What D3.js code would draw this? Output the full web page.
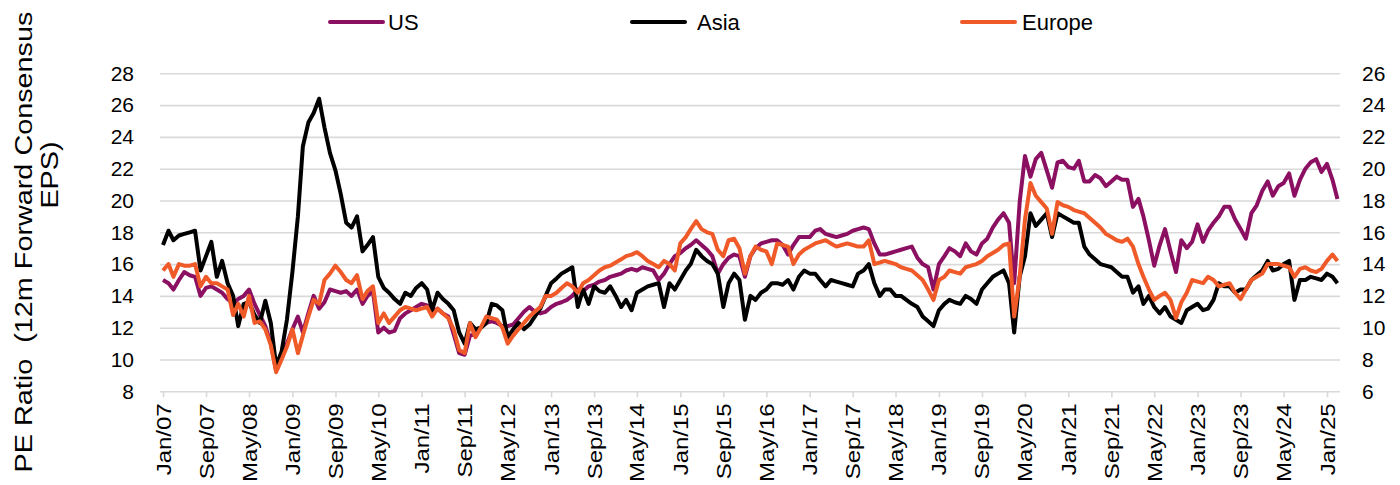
<!DOCTYPE html>
<html>
<head>
<meta charset="utf-8">
<script src="https://cdn.jsdelivr.net/npm/d3@7"></script>
<style>
  html, body { margin: 0; padding: 0; background: #fff; }
  svg { display: block; font-family: "Liberation Sans", Arial, sans-serif; }
</style>
</head>
<body>
<svg id="chart" width="1400" height="485"></svg>
<script>
// Monthly PE ratios (12m forward consensus EPS), Jan 2007 onward
const startMonth = new Date(2007, 0, 1);

const seriesNames = ["US", "Asia", "Europe"];
const seriesColors = ["#8b1062", "#000000", "#f05a28"];

const US = [
  15.0,14.8,14.4,15.0,15.5,15.3,15.2,14.0,14.5,14.6,14.4,14.2,
  13.8,13.5,13.8,14.0,14.4,13.5,12.8,12.1,11.0,9.3,10.2,11.0,
  11.9,12.7,11.7,12.9,14.0,13.2,13.6,14.4,14.3,14.2,14.3,14.0,
  14.4,13.5,14.0,14.3,11.7,12.0,11.7,11.8,12.6,12.9,13.1,13.3,
  13.5,13.4,13.0,13.2,12.9,12.7,11.6,10.4,10.3,11.5,11.6,12.0,
  12.3,12.4,12.3,12.1,12.1,12.2,12.6,13.0,13.3,13.0,12.9,13.0,
  13.3,13.5,13.6,13.75,14.0,14.4,14.3,14.6,14.7,14.9,15.0,15.2,
  15.3,15.4,15.6,15.7,15.6,15.8,15.7,15.6,15.0,15.4,16.0,16.5,
  16.7,17.0,17.2,17.5,17.2,16.9,16.5,15.4,16.0,16.4,16.6,16.5,
  15.2,16.5,17.0,17.3,17.4,17.5,17.5,17.2,16.6,17.2,17.7,17.7,
  17.7,18.1,18.2,17.9,17.8,17.7,17.8,17.9,18.1,18.2,18.3,18.2,
  17.3,16.6,16.6,16.7,16.8,16.9,17.0,17.1,16.4,16.0,15.8,14.4,
  16.0,16.5,17.0,16.8,16.5,17.3,16.8,16.6,17.3,17.6,18.3,18.8,
  19.2,18.6,14.8,19.9,22.8,21.5,22.6,23.0,21.9,20.8,22.4,22.5,
  22.1,22.0,22.5,21.2,21.2,21.6,21.4,20.9,21.2,21.5,21.3,21.3,
  19.6,20.1,19.0,17.5,15.9,17.2,18.2,16.8,15.5,17.5,17.0,17.4,
  18.5,17.4,18.1,18.6,19.0,19.6,19.6,18.8,18.2,17.6,19.2,19.7,
  20.6,21.2,20.3,20.9,21.1,21.7,20.3,21.3,22.0,22.4,22.6,21.8,
  22.3,21.3,20.1
];

const Asia = [
  17.2,18.1,17.5,17.8,17.9,18.0,18.1,15.6,16.5,17.4,15.2,16.2,
  14.8,14.0,12.1,13.5,13.6,12.8,12.3,13.7,12.3,9.6,10.5,12.5,
  15.5,19.0,23.4,24.9,25.5,26.4,24.6,23.0,21.9,20.4,18.6,18.3,
  19.0,16.8,17.2,17.7,15.2,14.5,14.2,13.8,13.5,14.2,14.0,14.5,
  14.8,14.4,13.1,14.2,13.8,13.5,13.1,11.7,11.0,12.3,11.9,12.0,
  12.3,13.5,13.4,13.1,11.4,11.9,12.3,11.9,12.2,12.7,13.2,14.0,
  14.8,15.1,15.4,15.6,15.8,13.3,14.4,13.5,14.6,14.3,14.2,14.6,
  14.0,13.3,13.75,13.1,14.2,14.4,14.6,14.7,14.8,13.3,14.8,14.4,
  15.0,15.6,16.0,16.9,16.5,16.2,16.0,15.4,13.3,14.8,15.4,15.0,
  12.5,14.0,13.75,14.2,14.4,14.8,14.8,14.7,15.0,14.4,15.2,15.6,
  15.4,15.4,15.0,14.6,15.0,14.9,14.8,14.7,14.6,15.4,15.6,16.0,
  14.8,14.0,14.4,14.4,14.0,14.0,13.75,13.5,13.3,12.7,12.4,12.1,
  13.1,13.5,13.75,13.6,13.5,14.0,13.8,13.5,14.4,14.8,15.2,15.4,
  15.6,14.8,11.7,15.2,16.5,19.2,18.4,18.8,19.2,17.7,19.2,19.0,
  18.8,18.6,18.6,17.1,16.6,16.3,16.0,15.9,15.8,15.5,15.2,15.2,
  14.2,14.6,13.5,14.0,13.3,12.9,13.3,12.7,12.5,12.3,13.1,13.3,
  13.5,13.1,13.2,13.75,14.8,14.6,14.6,14.2,14.4,14.4,15.0,15.3,
  15.6,16.2,15.6,15.7,16.0,16.2,13.75,15.0,15.0,15.2,15.1,15.0,
  15.4,15.2,14.8
];

const Europe = [
  15.6,16.0,15.2,16.0,15.9,15.9,16.0,14.6,15.2,14.8,14.8,14.6,
  14.4,12.8,13.5,12.7,14.0,12.3,12.4,11.9,10.9,9.2,10.0,10.8,
  11.9,10.4,11.5,12.7,13.75,13.5,15.0,15.4,15.9,15.5,15.0,14.8,
  15.3,13.8,14.3,14.6,12.3,12.9,12.3,12.7,13.1,13.3,13.2,13.1,
  13.2,13.3,12.7,13.2,12.9,12.6,11.9,10.6,10.4,12.3,11.4,12.0,
  12.7,12.6,12.5,12.0,11.0,11.5,11.9,12.3,12.7,13.0,13.3,14.0,
  14.0,14.2,14.5,14.8,14.6,14.2,14.8,15.0,15.3,15.6,15.8,15.9,
  16.1,16.3,16.5,16.6,16.75,16.5,16.2,16.0,15.8,16.2,16.0,15.6,
  17.3,17.7,18.2,18.7,18.2,18.0,17.9,16.9,16.5,17.5,17.6,17.0,
  15.4,16.5,17.1,16.9,16.8,16.0,17.3,17.2,17.1,16.0,16.6,16.9,
  17.1,17.3,17.4,17.5,17.3,17.1,17.2,17.3,17.2,17.1,17.1,17.5,
  16.0,16.1,16.2,16.1,16.0,15.8,15.7,15.6,15.3,15.0,14.4,13.75,
  15.0,15.2,15.6,15.5,15.4,15.8,15.9,16.0,16.2,16.5,16.7,16.9,
  17.2,17.3,12.7,15.2,18.8,21.1,20.3,19.9,19.5,17.9,19.9,19.7,
  19.6,19.4,19.3,19.2,18.9,18.6,18.3,17.9,17.7,17.5,17.4,17.6,
  17.1,16.0,15.2,14.4,13.75,14.0,14.2,13.75,12.6,13.6,14.2,15.0,
  14.9,14.8,15.2,15.0,14.6,14.7,14.8,14.2,13.8,14.4,15.0,15.2,
  15.4,16.0,16.0,16.0,15.9,15.8,15.2,15.7,15.8,15.6,15.5,15.7,
  16.2,16.6,16.2
];

const leftTicks = [8, 10, 12, 14, 16, 18, 20, 22, 24, 26, 28];
const rightTicks = [6, 8, 10, 12, 14, 16, 18, 20, 22, 24, 26];
const xTickLabels = [
  "Jan/07","Sep/07","May/08","Jan/09","Sep/09","May/10","Jan/11","Sep/11",
  "May/12","Jan/13","Sep/13","May/14","Jan/15","Sep/15","May/16","Jan/17",
  "Sep/17","May/18","Jan/19","Sep/19","May/20","Jan/21","Sep/21","May/22",
  "Jan/23","Sep/23","May/24","Jan/25"
];
const yTitleLines = ["PE Ratio  (12m Forward Consensus", "EPS)"];

// ---- layout ----
const plotLeft = 160, plotRight = 1340, plotTop = 73.3, plotBottom = 391.3;
const svg = d3.select("#chart");

const x = d3.scaleTime()
  .domain([new Date(2007, 0, 1), new Date(2025, 0, 1)])
  .range([163, 1327]);
const y = d3.scaleLinear().domain([8, 28]).range([plotBottom, plotTop]);
const yRight = d3.scaleLinear().domain([6, 26]).range([plotBottom, plotTop]);

const parseTick = d3.timeParse("%b/%y");
const tickDates = xTickLabels.map(parseTick);
const dates = US.map((_, i) => d3.timeMonth.offset(startMonth, i));

// horizontal gridlines (the lowest one doubles as the category axis line)
svg.append("g")
  .attr("transform", `translate(${plotLeft},0)`)
  .call(d3.axisLeft(y).tickValues(leftTicks).tickSize(-(plotRight - plotLeft)).tickFormat(""))
  .call(g => g.select(".domain").remove())
  .call(g => g.selectAll("line").attr("stroke", "#d9d9d9").attr("stroke-width", 1.6));

// left value axis
svg.append("g")
  .attr("transform", `translate(${plotLeft},0)`)
  .call(d3.axisLeft(y).tickValues(leftTicks).tickSize(0).tickPadding(26).tickFormat(d3.format("d")))
  .call(g => g.select(".domain").remove())
  .call(g => g.selectAll("text")
    .attr("fill", "#000").style("font-size", "21px")
    .style("font-family", '"Liberation Sans", Arial, sans-serif'));

// right value axis
svg.append("g")
  .attr("transform", `translate(${plotRight},0)`)
  .call(d3.axisRight(yRight).tickValues(rightTicks).tickSize(0).tickPadding(22).tickFormat(d3.format("d")))
  .call(g => g.select(".domain").remove())
  .call(g => g.selectAll("text")
    .attr("fill", "#000").style("font-size", "21px")
    .style("font-family", '"Liberation Sans", Arial, sans-serif'));

// date axis with rotated labels
svg.append("g")
  .attr("transform", `translate(0,${plotBottom})`)
  .call(d3.axisBottom(x).tickValues(tickDates).tickSize(6)
    .tickFormat((d, i) => xTickLabels[i]))
  .call(g => g.select(".domain").remove())
  .call(g => g.selectAll("line").attr("stroke", "#d9d9d9").attr("stroke-width", 1.6))
  .call(g => g.selectAll("text")
    .attr("fill", "#000")
    .style("font-size", "20px")
    .style("font-family", '"Liberation Sans", Arial, sans-serif')
    .attr("text-anchor", "end")
    .attr("x", -10).attr("y", 0).attr("dy", "0.35em")
    .attr("transform", "scale(1,1.2) rotate(-90)"));

// series lines
const seriesData = [US, Asia, Europe];
const line = d3.line()
  .x((d, i) => x(dates[i]))
  .y(d => y(d));

const drawOrder = [0, 1, 2];
svg.append("g")
  .selectAll("path")
  .data(drawOrder)
  .join("path")
  .attr("d", k => line(seriesData[k]))
  .attr("fill", "none")
  .attr("stroke", k => seriesColors[k])
  .attr("stroke-width", 4)
  .attr("stroke-linejoin", "round");

// legend
const legendX = [330, 632, 962];
const legend = svg.append("g")
  .selectAll("g")
  .data(seriesNames)
  .join("g")
  .attr("transform", (d, i) => `translate(${legendX[i]},22)`);
legend.append("line")
  .attr("x1", 0).attr("x2", 53)
  .attr("stroke", (d, i) => seriesColors[i])
  .attr("stroke-width", 4)
  .attr("stroke-linecap", "round");
legend.append("text")
  .attr("x", (d, i) => [58, 65, 60][i])
  .attr("dy", "0.35em")
  .style("font-size", "22px")
  .text(d => d);

// rotated value-axis title
const titleX = [24, 50];
const titleY = [242, 175];
svg.append("g")
  .selectAll("text")
  .data(yTitleLines)
  .join("text")
  .attr("transform", (d, i) => `translate(${titleX[i]},${titleY[i]}) scale(1,1.2) rotate(-90)`)
  .attr("text-anchor", "middle")
  .attr("dy", "0.35em")
  .style("font-size", "24px")
  .style("white-space", "pre")
  .text(d => d);
</script>
</body>
</html>
